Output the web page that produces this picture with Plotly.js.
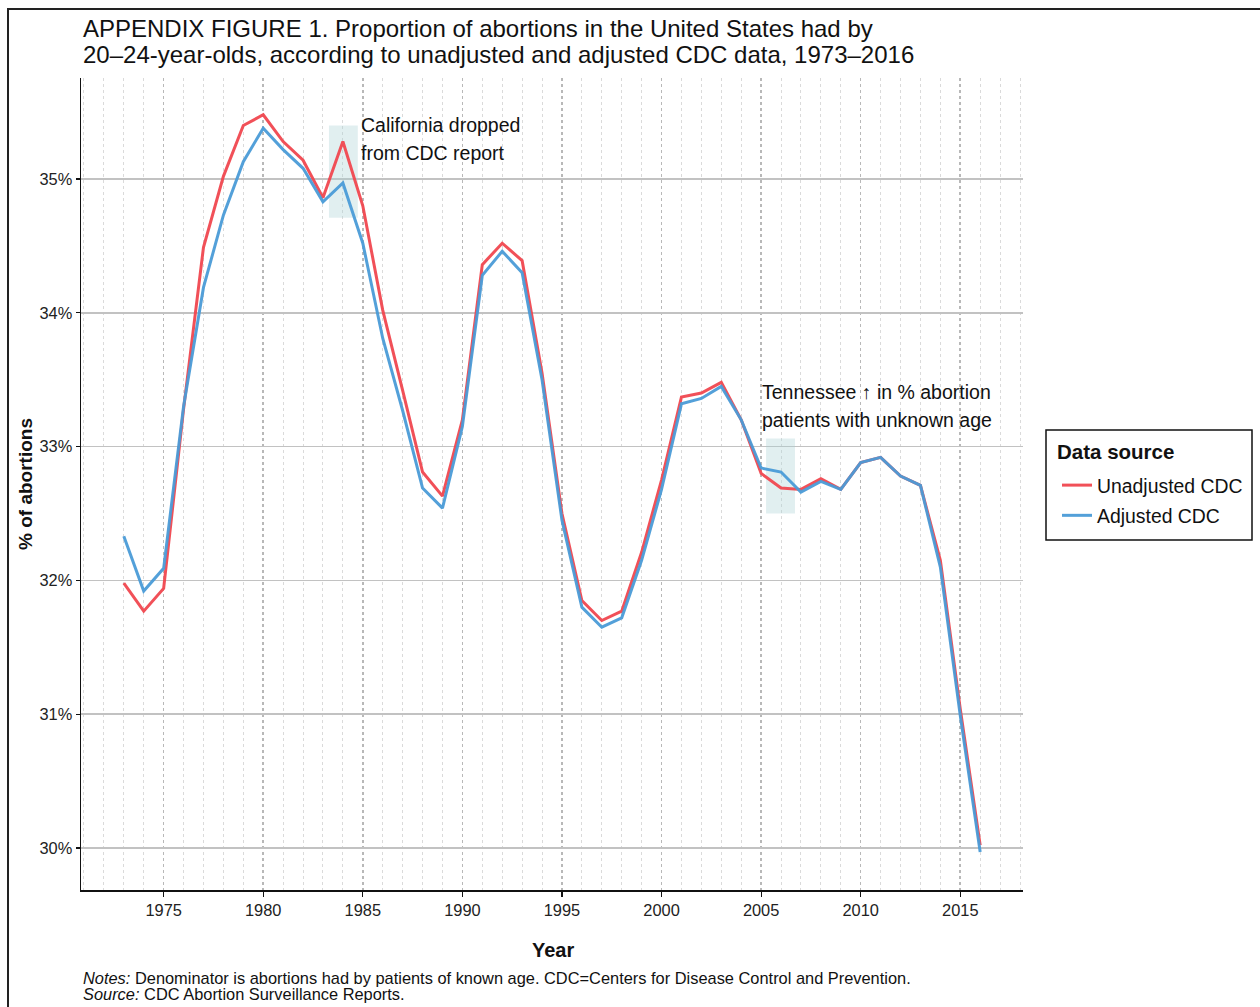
<!DOCTYPE html>
<html>
<head>
<meta charset="utf-8">
<script src="https://cdn.plot.ly/plotly-3.0.1.min.js"></script>
<style>
  html, body { margin: 0; padding: 0; background: #fff; }
  #chart { width: 1260px; height: 1007px; position: absolute; left: 0; top: 0; }
  #frame { position: absolute; left: 7px; top: 8px; width: 1260px; height: 1010px;
           border-top: 2px solid #222; border-left: 2px solid #222; pointer-events: none; }
</style>
</head>
<body>
<div id="chart"></div>
<div id="frame"></div>
<script>
const years = [1973,1974,1975,1976,1977,1978,1979,1980,1981,1982,1983,1984,1985,1986,1987,1988,1989,1990,1991,1992,1993,1994,1995,1996,1997,1998,1999,2000,2001,2002,2003,2004,2005,2006,2007,2008,2009,2010,2011,2012,2013,2014,2015,2016];

const unadjusted = [31.98,31.77,31.94,33.28,34.49,35.02,35.40,35.48,35.28,35.14,34.86,35.28,34.80,34.02,33.42,32.81,32.63,33.20,34.36,34.52,34.39,33.55,32.50,31.85,31.70,31.77,32.21,32.75,33.37,33.40,33.48,33.20,32.80,32.69,32.68,32.76,32.68,32.88,32.92,32.78,32.71,32.15,31.04,30.02];

const adjusted = [32.33,31.92,32.09,33.30,34.19,34.73,35.13,35.38,35.22,35.08,34.83,34.97,34.52,33.81,33.27,32.69,32.54,33.15,34.28,34.46,34.30,33.50,32.45,31.80,31.65,31.72,32.15,32.68,33.32,33.36,33.45,33.20,32.84,32.81,32.66,32.74,32.68,32.88,32.92,32.78,32.71,32.10,30.99,29.97];

const seriesNames = ["Unadjusted CDC", "Adjusted CDC"];
const seriesColors = ["#F0474F", "#4A9BD7"];
const legendTitle = "Data source";

const titleLines = ["APPENDIX FIGURE 1. Proportion of abortions in the United States had by",
                    "20\u201324-year-olds, according to unadjusted and adjusted CDC data, 1973\u20132016"];
const californiaNote = ["California dropped", "from CDC report"];
const tennesseeNote = ["Tennessee \u2191 in % abortion", "patients with unknown age"];
const notesText = "<i>Notes:</i> Denominator is abortions had by patients of known age. CDC=Centers for Disease Control and Prevention.";
const sourceText = "<i>Source:</i> CDC Abortion Surveillance Reports.";

const FONT = "Liberation Sans, Arial, sans-serif";

const traces = [
  { x: years, y: unadjusted, name: seriesNames[0], legendgroup: "a", type: "scatter", mode: "lines",
    line: { color: seriesColors[0], width: 3 }, opacity: 0.95 },
  { x: years, y: adjusted, name: seriesNames[1], legendgroup: "b", type: "scatter", mode: "lines",
    line: { color: seriesColors[1], width: 3 }, opacity: 0.95 }
];

const W = 1260, H = 1007, L = 81, R = 1023, T = 78, B = 890;
const px = v => (v - L) / (R - L);
const py = v => (B - v) / (B - T);

function txt(x, y, text, size, extra) {
  return Object.assign({ xref: "paper", yref: "paper", x: px(x), y: py(y), text: text,
    showarrow: false, xanchor: "left", yanchor: "middle",
    font: { family: FONT, size: size, color: "#111" } }, extra || {});
}
function dataTxt(x, y, text) {
  return { xref: "x", yref: "y", x: x, y: y, text: text, showarrow: false,
    xanchor: "left", yanchor: "middle", font: { family: FONT, size: 19.5, color: "#111" } };
}

const layout = {
  width: W, height: H,
  margin: { l: L, r: W - R, t: T, b: H - B, pad: 0 },
  paper_bgcolor: "#fff", plot_bgcolor: "#fff",
  font: { family: FONT, color: "#111" },
  xaxis: {
    range: [1970.85, 2018.15],
    tickmode: "linear", tick0: 1975, dtick: 5,
    showgrid: true, gridcolor: "#b8b8b8", gridwidth: 1.6, griddash: "dot",
    minor: { tickmode: "linear", tick0: 1971, dtick: 1, showgrid: true,
             gridcolor: "#dadada", gridwidth: 1, griddash: "dot", ticks: "" },
    showline: true, linecolor: "#111", linewidth: 1.5,
    ticks: "outside", ticklen: 5, tickcolor: "#111", tickwidth: 1.2,
    tickfont: { family: FONT, size: 16.4, color: "#222" },
    zeroline: false, fixedrange: true
  },
  yaxis: {
    range: [29.686, 35.755],
    tickmode: "linear", tick0: 30, dtick: 1, ticksuffix: "%",
    showgrid: true, gridcolor: "#c2c2c2", gridwidth: 1.6,
    showline: true, linecolor: "#111", linewidth: 1.5,
    ticks: "outside", ticklen: 4, tickcolor: "#111", tickwidth: 1.2,
    tickfont: { family: FONT, size: 16.4, color: "#222" },
    zeroline: false, fixedrange: true
  },
  showlegend: true,
  legend: {
    x: px(1057), y: py(466), xanchor: "left", yanchor: "top",
    borderwidth: 0, bgcolor: "rgba(0,0,0,0)",
    font: { family: FONT, size: 19.4, color: "#111" },
    tracegroupgap: 2, itemwidth: 30
  },
  shapes: [
    { type: "rect", xref: "x", yref: "y", x0: 1983.3, x1: 1984.75, y0: 34.71, y1: 35.40,
      fillcolor: "rgba(170,210,212,0.35)", line: { width: 0 }, layer: "between" },
    { type: "rect", xref: "x", yref: "y", x0: 2005.25, x1: 2006.7, y0: 32.50, y1: 33.06,
      fillcolor: "rgba(170,210,212,0.35)", line: { width: 0 }, layer: "between" },
    { type: "rect", xref: "paper", yref: "paper", x0: px(1046), x1: px(1252), y0: py(540), y1: py(430),
      fillcolor: "rgba(0,0,0,0)", line: { color: "#111", width: 1.5 }, layer: "above" }
  ],
  annotations: [
    txt(81, 28, titleLines[0], 24),
    txt(81, 54, titleLines[1], 24),
    dataTxt(1984.8, 35.404, californiaNote[0]),
    dataTxt(1984.8, 35.194, californiaNote[1]),
    dataTxt(2004.95, 33.408, tennesseeNote[0]),
    dataTxt(2004.95, 33.199, tennesseeNote[1]),
    txt(25, 484, "<b>% of abortions</b>", 19, { textangle: -90, xanchor: "center" }),
    txt(553, 950, "<b>Year</b>", 20, { xanchor: "center" }),
    txt(1055, 451, "<b>" + legendTitle + "</b>", 20.5),
    txt(81, 978, notesText, 16.4),
    txt(81, 994, sourceText, 16.4)
  ]
};

Plotly.newPlot("chart", traces, layout, { displayModeBar: false, staticPlot: true });
</script>
</body>
</html>
